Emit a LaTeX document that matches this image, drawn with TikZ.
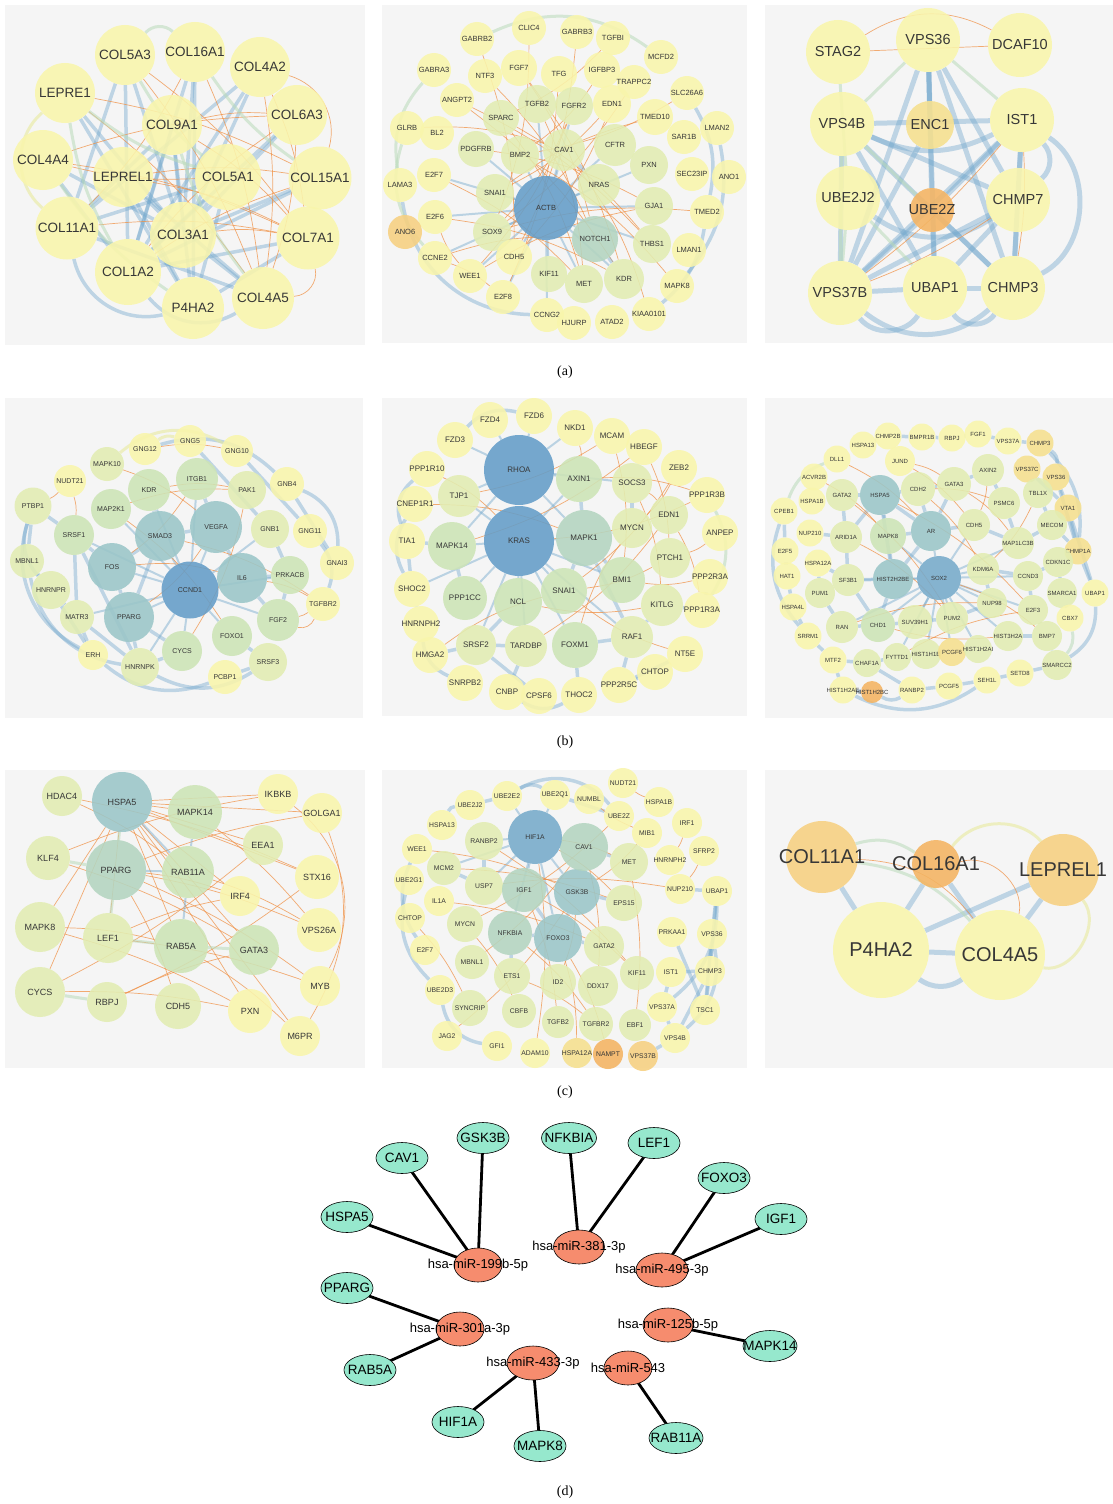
\documentclass[tikz,border=0pt]{standalone}
\usepackage{fontspec}
\setmainfont{Liberation Sans}
\newfontfamily\capserif{Liberation Serif}
\usetikzlibrary{shapes.geometric}
\pgfdeclarelayer{panelbg}
\pgfdeclarelayer{edges}
\pgfsetlayers{panelbg,edges,main}
\definecolor{cY}{RGB}{249,245,172}
\definecolor{cLG}{RGB}{226,237,178}
\definecolor{cG}{RGB}{205,228,182}
\definecolor{cGT}{RGB}{180,213,192}
\definecolor{cT}{RGB}{155,198,200}
\definecolor{cB}{RGB}{100,157,200}
\definecolor{cBl}{RGB}{118,170,202}
\definecolor{cO}{RGB}{247,208,128}
\definecolor{cYO}{RGB}{246,224,142}
\definecolor{cOR}{RGB}{244,180,98}
\definecolor{pbg}{RGB}{245,245,245}
\definecolor{eB}{RGB}{115,168,205}
\definecolor{eO}{RGB}{240,145,70}
\definecolor{eG}{RGB}{185,218,185}
\definecolor{eY}{RGB}{232,234,150}
\definecolor{dG}{RGB}{150,232,205}
\definecolor{dR}{RGB}{246,140,110}
\definecolor{tx}{RGB}{55,55,55}
\newcommand\zb[1]{\makebox[0pt]{#1}}
\tikzset{
 gn/.style={circle,inner sep=0pt,fill=#1,fill opacity=0.88,text opacity=1,text=tx},
 dm/.style={minimum size=#1pt},
 fs/.style={font=\fontsize{#1}{#1}\selectfont},
 eb/.style={draw=eB,line width=3.5pt,draw opacity=0.42},
 ebw/.style={draw=eB,line width=5pt,draw opacity=0.42},
 ebt/.style={draw=eB,line width=2pt,draw opacity=0.45},
 eo/.style={draw=eO,line width=0.7pt,draw opacity=0.75},
 eg/.style={draw=eG,line width=3pt,draw opacity=0.55},
 ey/.style={draw=eY,line width=3pt,draw opacity=0.55},
 dg/.style={ellipse,draw=black,line width=0.6pt,fill=dG,minimum width=52pt,minimum height=31pt,inner sep=0pt,fs=13.5},
 dr/.style={ellipse,draw=black,line width=0.6pt,fill=dR,minimum width=48pt,minimum height=34pt,inner sep=0pt,fs=13},
 de/.style={draw=black,line width=2.8pt},
 captxt/.style={font=\capserif\fontsize{14}{14}\selectfont}
}
\begin{document}
\begin{tikzpicture}[x=1pt,y=-1pt]
\useasboundingbox (0,0) rectangle (1113,1504);
\begin{pgfonlayer}{panelbg}
\fill[white] (0,0) rectangle (1113,1504);
\fill[pbg] (5,5) rectangle (365,345);
\fill[pbg] (382,5) rectangle (747,343);
\fill[pbg] (765,5) rectangle (1113,343);
\fill[pbg] (5,398) rectangle (363,718);
\fill[pbg] (382,398) rectangle (747,716);
\fill[pbg] (765,398) rectangle (1113,718);
\fill[pbg] (5,770) rectangle (365,1068);
\fill[pbg] (382,770) rectangle (747,1068);
\fill[pbg] (765,770) rectangle (1113,1068);
\end{pgfonlayer}

% ================= a1
\begin{scope}[every node/.style={gn=cY,dm=60,fs=13.5}]
\node (a1-COL5A3) at (125,55) {COL5A3};
\node (a1-COL16A1) at (195,52) {COL16A1};
\node (a1-COL4A2) at (260,67) {COL4A2};
\node (a1-LEPRE1) at (65,93) {LEPRE1};
\node (a1-COL6A3) at (297,115) {COL6A3};
\node (a1-COL9A1) at (172,125) {COL9A1};
\node (a1-COL4A4) at (43,160) {COL4A4};
\node (a1-LEPREL1) at (123,177) {LEPREL1};
\node[dm=66] (a1-COL5A1) at (228,177) {COL5A1};
\node[dm=63] (a1-COL15A1) at (320,178) {COL15A1};
\node[dm=63] (a1-COL11A1) at (67,228) {COL11A1};
\node[dm=66] (a1-COL3A1) at (183,235) {COL3A1};
\node[dm=63] (a1-COL7A1) at (308,238) {COL7A1};
\node[dm=66] (a1-COL1A2) at (128,272) {COL1A2};
\node[dm=62] (a1-P4HA2) at (193,308) {P4HA2};
\node[dm=62] (a1-COL4A5) at (263,298) {COL4A5};
\end{scope}
\begin{pgfonlayer}{edges}
\foreach \u/\v in {COL5A3/COL3A1,COL5A3/COL1A2,COL16A1/COL3A1,COL4A2/COL1A2,LEPRE1/COL3A1,COL9A1/COL1A2,COL4A4/COL3A1,LEPREL1/P4HA2,COL5A1/COL1A2,COL15A1/COL3A1,COL11A1/COL5A1,COL6A3/COL1A2,COL7A1/COL1A2,COL4A5/COL11A1,COL5A3/COL11A1,COL4A2/COL11A1,COL16A1/COL1A2,COL9A1/COL11A1,LEPREL1/COL4A5,COL9A1/P4HA2,COL4A4/COL1A2,LEPRE1/P4HA2,COL9A1/COL3A1,LEPREL1/COL3A1,COL5A1/COL3A1,COL6A3/COL3A1,COL4A2/COL3A1,COL15A1/COL1A2,COL7A1/P4HA2,COL4A5/COL3A1,COL16A1/P4HA2,COL5A1/P4HA2}
 \draw[eb] (a1-\u) -- (a1-\v);
\foreach \u/\v in {COL4A4/COL7A1,LEPRE1/COL15A1,COL9A1/COL6A3,LEPREL1/COL7A1,COL11A1/COL7A1,COL3A1/COL7A1,COL5A3/COL4A5,COL16A1/COL4A5,COL4A2/COL7A1,COL6A3/COL4A5,COL4A4/COL6A3,COL1A2/COL15A1,COL5A1/COL4A4,COL9A1/COL7A1,LEPRE1/COL4A5,COL16A1/COL11A1,COL5A3/COL7A1,COL4A2/COL4A5,LEPREL1/COL15A1,COL1A2/COL6A3}
 \draw[eo] (a1-\u) to[bend left=8] (a1-\v);
\foreach \u/\v in {COL5A3/COL5A1,LEPRE1/COL1A2,COL16A1/COL15A1,COL4A4/P4HA2,COL9A1/COL4A5,LEPRE1/COL5A1}
 \draw[eg] (a1-\u) to[bend right=10] (a1-\v);
\draw[eb] (a1-COL11A1) to[bend right=45] (a1-P4HA2);
\draw[eb] (a1-COL1A2) to[bend right=40] (a1-COL4A5);
\draw[eo] (a1-COL4A2) to[bend left=45] (a1-COL15A1);
\draw[eo] (a1-COL7A1) to[bend left=50] (a1-COL4A5);
\draw[ey] (a1-LEPRE1) to[bend right=50] (a1-COL11A1);
\draw[eg] (a1-COL5A3) to[bend left=45] (a1-COL16A1);
\end{pgfonlayer}

% ================= a2
\begin{scope}[every node/.style={gn=cY,dm=34,fs=7.5}]
\node (a2-CLIC4) at (529,28) {CLIC4};
\node (a2-GABRB2) at (477,39) {GABRB2};
\node (a2-GABRB3) at (577,32) {GABRB3};
\node (a2-TGFBI) at (613,38) {TGFBI};
\node (a2-MCFD2) at (661,57) {MCFD2};
\node (a2-GABRA3) at (434,70) {GABRA3};
\node (a2-NTF3) at (485,76) {NTF3};
\node[dm=36] (a2-FGF7) at (519,68) {FGF7};
\node[dm=36] (a2-TFG) at (559,74) {TFG};
\node[dm=36] (a2-IGFBP3) at (602,70) {IGFBP3};
\node (a2-TRAPPC2) at (634,82) {\zb{TRAPPC2}};
\node (a2-SLC26A6) at (687,93) {\zb{SLC26A6}};
\node (a2-ANGPT2) at (457,100) {ANGPT2};
\node[dm=38,fill=cLG] (a2-TGFB2) at (537,104) {TGFB2};
\node[dm=38,fill=cLG] (a2-FGFR2) at (574,106) {FGFR2};
\node[dm=38] (a2-EDN1) at (612,104) {EDN1};
\node[dm=36] (a2-TMED10) at (655,117) {TMED10};
\node (a2-LMAN2) at (717,128) {LMAN2};
\node (a2-BL2) at (437,133) {BL2};
\node (a2-GLRB) at (407,128) {GLRB};
\node[dm=36,fill=cLG] (a2-SPARC) at (501,118) {SPARC};
\node (a2-SAR1B) at (684,137) {SAR1B};
\node[dm=36,fill=cLG] (a2-PDGFRB) at (476,149) {PDGFRB};
\node[dm=38,fill=cLG] (a2-BMP2) at (520,155) {BMP2};
\node[dm=42,fill=cLG] (a2-CAV1) at (564,150) {CAV1};
\node[dm=42,fill=cLG] (a2-CFTR) at (615,145) {CFTR};
\node[dm=38,fill=cLG] (a2-PXN) at (649,165) {PXN};
\node (a2-SEC23IP) at (692,174) {\zb{SEC23IP}};
\node (a2-ANO1) at (729,177) {ANO1};
\node (a2-E2F7) at (434,175) {E2F7};
\node (a2-LAMA3) at (400,185) {LAMA3};
\node[dm=38,fill=cLG] (a2-SNAI1) at (495,193) {SNAI1};
\node[dm=42,fill=cLG] (a2-NRAS) at (599,185) {NRAS};
\node[dm=38,fill=cLG] (a2-GJA1) at (654,206) {GJA1};
\node (a2-TMED2) at (707,212) {TMED2};
\node (a2-E2F6) at (435,217) {E2F6};
\node[fill=cO] (a2-ANO6) at (405,232) {ANO6};
\node[dm=38,fill=cLG] (a2-SOX9) at (492,232) {SOX9};
\node[dm=46,fill=cGT] (a2-NOTCH1) at (595,239) {NOTCH1};
\node[dm=38,fill=cLG] (a2-THBS1) at (652,244) {THBS1};
\node (a2-LMAN1) at (689,250) {LMAN1};
\node (a2-CCNE2) at (435,258) {CCNE2};
\node[dm=36] (a2-CDH5) at (514,257) {CDH5};
\node (a2-WEE1) at (470,276) {WEE1};
\node[dm=36,fill=cLG] (a2-KIF11) at (549,274) {KIF11};
\node[dm=38,fill=cLG] (a2-MET) at (584,284) {MET};
\node[dm=40,fill=cLG] (a2-KDR) at (624,279) {KDR};
\node (a2-MAPK8) at (677,286) {MAPK8};
\node (a2-E2F8) at (503,297) {E2F8};
\node (a2-CCNG2) at (547,315) {CCNG2};
\node (a2-HJURP) at (574,323) {HJURP};
\node (a2-ATAD2) at (612,322) {ATAD2};
\node (a2-KIAA0101) at (649,314) {\zb{KIAA0101}};
\node[dm=64,fill=cB] (a2-ACTB) at (546,208) {ACTB};
\end{scope}
\begin{pgfonlayer}{edges}
\foreach \v in {SNAI1,NRAS,SOX9,NOTCH1,CAV1,BMP2,CDH5,KIF11,MET,KDR,GJA1,THBS1,PXN,E2F7,WEE1,CCNE2,E2F6,CFTR,TGFB2,FGFR2,PDGFRB,E2F8,CCNG2}
 \draw[ebt] (a2-ACTB) -- (a2-\v);
\foreach \u/\v in {TGFB2/MET,FGF7/KDR,FGFR2/SOX9,SPARC/THBS1,ANGPT2/KDR,EDN1/CDH5,NTF3/NOTCH1,IGFBP3/BMP2,TFG/E2F8,GABRB2/CDH5,PDGFRB/GJA1,CAV1/KIAA0101,E2F7/MET,SNAI1/TMED10,CCNE2/E2F8,WEE1/E2F6,CLIC4/SOX9,TGFBI/SPARC,FGF7/NOTCH1,EDN1/SNAI1,GABRB3/CDH5,TRAPPC2/SOX9,SLC26A6/BMP2,ANGPT2/THBS1,SPARC/MET,E2F6/KDR,CCNE2/NOTCH1,WEE1/GJA1,GLRB/CAV1,FGFR2/WEE1,BMP2/MAPK8,SOX9/TMED2}
 \draw[eo] (a2-\u) to[bend left=10] (a2-\v);
\draw[eb] (a2-LAMA3) to[bend right=40] (a2-CCNG2);
\draw[eb] (a2-LMAN2) to[bend left=25] (a2-MAPK8);
\draw[eg] (a2-GABRB2) to[bend left=30] (a2-MCFD2);
\draw[eg] (a2-GLRB) to[bend right=30] (a2-CCNE2);
\draw[eb] (a2-NOTCH1) -- (a2-KDR);
\draw[eb] (a2-CAV1) -- (a2-NRAS);
\draw[eb] (a2-SLC26A6) to[bend left=20] (a2-TMED2);
\draw[eb] (a2-TMED2) to[bend left=20] (a2-KIAA0101);
\draw[eg] (a2-GABRA3) to[bend right=25] (a2-LAMA3);
\end{pgfonlayer}

% ================= a3
\begin{scope}[every node/.style={gn=cY,dm=64,fs=14.5}]
\node (a3-STAG2) at (838,52) {STAG2};
\node (a3-VPS36) at (928,40) {VPS36};
\node (a3-DCAF10) at (1020,45) {DCAF10};
\node (a3-VPS4B) at (842,124) {VPS4B};
\node[dm=48,fill=cYO] (a3-ENC1) at (930,125) {ENC1};
\node (a3-IST1) at (1022,120) {IST1};
\node (a3-UBE2J2) at (848,198) {UBE2J2};
\node[dm=44,fill=cOR] (a3-UBE2Z) at (932,210) {\zb{UBE2Z}};
\node (a3-CHMP7) at (1018,200) {CHMP7};
\node (a3-VPS37B) at (840,293) {VPS37B};
\node (a3-UBAP1) at (935,288) {UBAP1};
\node (a3-CHMP3) at (1013,288) {CHMP3};
\end{scope}
\begin{pgfonlayer}{edges}
\foreach \u/\v in {VPS36/UBE2Z,VPS36/CHMP3,VPS36/UBAP1,VPS36/VPS37B,VPS36/CHMP7,IST1/UBE2Z,IST1/VPS37B,IST1/CHMP3,IST1/CHMP7,CHMP7/VPS37B,CHMP7/UBAP1,CHMP7/CHMP3,UBAP1/VPS37B,UBE2Z/CHMP3,VPS4B/VPS37B,VPS4B/UBAP1,VPS4B/CHMP7,UBE2Z/VPS37B,UBE2Z/UBAP1,VPS4B/IST1,UBAP1/CHMP3,ENC1/VPS37B,VPS36/ENC1,VPS4B/CHMP3}
 \draw[ebw] (a3-\u) -- (a3-\v);
\draw[ebw] (a3-IST1) to[bend left=60] (a3-CHMP3);
\draw[ebw] (a3-IST1) to[bend left=45] (a3-CHMP7);
\draw[ebw] (a3-VPS37B) to[bend right=40] (a3-CHMP3);
\draw[ebw] (a3-VPS37B) to[bend right=55] (a3-UBAP1);
\draw[ebw] (a3-UBAP1) to[bend right=55] (a3-CHMP3);
\draw[ebw] (a3-VPS4B) to[bend right=25] (a3-IST1);
\draw[ebw] (a3-UBE2J2) to[bend right=35] (a3-CHMP7);
\foreach \u/\v in {UBE2J2/VPS37B,UBE2J2/UBAP1,STAG2/UBE2J2,VPS36/VPS4B,VPS4B/UBE2Z,VPS36/IST1,VPS4B/VPS37B}
 \draw[eg] (a3-\u) -- (a3-\v);
\draw[eo] (a3-STAG2) to[bend left=30] (a3-DCAF10);
\draw[eo] (a3-STAG2) -- (a3-DCAF10);
\foreach \u/\v in {IST1/VPS37B,CHMP7/VPS37B,IST1/CHMP3}
 \draw[eo] (a3-\u) to[bend left=6] (a3-\v);
\end{pgfonlayer}

\node[captxt] (capa) at (565,372) {(a)};

% ================= b1
\begin{scope}[every node/.style={gn=cY,dm=32,fs=7}]
\node (b1-GNG12) at (145,449) {GNG12};
\node (b1-GNG5) at (190,441) {GNG5};
\node (b1-GNG10) at (237,451) {GNG10};
\node[dm=34,fill=cLG] (b1-MAPK10) at (107,464) {MAPK10};
\node (b1-NUDT21) at (70,481) {NUDT21};
\node[dm=42,fill=cG] (b1-ITGB1) at (197,479) {ITGB1};
\node[dm=42,fill=cG] (b1-KDR) at (149,490) {KDR};
\node[dm=38,fill=cLG] (b1-PAK1) at (247,490) {PAK1};
\node[dm=34] (b1-GNB4) at (287,484) {GNB4};
\node[dm=37,fill=cLG] (b1-PTBP1) at (33,506) {PTBP1};
\node[dm=40,fill=cG] (b1-MAP2K1) at (111,509) {MAP2K1};
\node[dm=38,fill=cLG] (b1-GNB1) at (270,529) {GNB1};
\node[dm=34] (b1-GNG11) at (310,531) {GNG11};
\node[dm=40,fill=cG] (b1-SRSF1) at (74,535) {SRSF1};
\node[dm=34,fill=cLG] (b1-MBNL1) at (27,561) {MBNL1};
\node[dm=34] (b1-GNAI3) at (337,563) {GNAI3};
\node[dm=38,fill=cG] (b1-PRKACB) at (290,575) {PRKACB};
\node[dm=38,fill=cLG] (b1-HNRNPR) at (51,590) {HNRNPR};
\node[dm=34] (b1-TGFBR2) at (323,604) {TGFBR2};
\node[dm=34,fill=cLG] (b1-MATR3) at (77,617) {MATR3};
\node[dm=42,fill=cG] (b1-FGF2) at (278,620) {FGF2};
\node[dm=40,fill=cG] (b1-FOXO1) at (232,636) {FOXO1};
\node[dm=40,fill=cG] (b1-CYCS) at (182,651) {CYCS};
\node[dm=30] (b1-ERH) at (93,655) {ERH};
\node[dm=38,fill=cLG] (b1-SRSF3) at (268,662) {SRSF3};
\node[dm=38,fill=cLG] (b1-HNRNPK) at (140,667) {HNRNPK};
\node[dm=34] (b1-PCBP1) at (225,677) {PCBP1};
\node[dm=52,fill=cT] (b1-VEGFA) at (216,527) {VEGFA};
\node[dm=50,fill=cT] (b1-SMAD3) at (160,536) {SMAD3};
\node[dm=48,fill=cT] (b1-FOS) at (112,567) {FOS};
\node[dm=50,fill=cT] (b1-IL6) at (242,578) {IL6};
\node[dm=50,fill=cT] (b1-PPARG) at (129,617) {PPARG};
\node[dm=57,fill=cB] (b1-CCND1) at (190,590) {CCND1};
\end{scope}
\begin{pgfonlayer}{edges}
\foreach \v in {SMAD3,VEGFA,FOS,IL6,PPARG,FOXO1,CYCS,FGF2,KDR,ITGB1,MAP2K1,SRSF1,PRKACB,GNB1,HNRNPK,MATR3}
 \draw[ebt] (b1-CCND1) -- (b1-\v);
\foreach \u/\v in {SMAD3/VEGFA,FOS/PPARG,SMAD3/PPARG,VEGFA/IL6,PTBP1/MBNL1,HNRNPR/MATR3,SRSF1/HNRNPK,GNG5/GNB1,GNG10/GNG11,GNB4/GNAI3,SRSF1/FOS,MATR3/HNRNPK,HNRNPR/ERH,MATR3/ERH,GNB1/PRKACB,PRKACB/FGF2,SRSF3/PCBP1,FOXO1/SRSF3,HNRNPK/CYCS,PTBP1/SRSF1,MBNL1/HNRNPR,SRSF1/MATR3,IL6/FGF2,IL6/PRKACB,SMAD3/FOS,VEGFA/ITGB1,KDR/SMAD3,PPARG/CYCS,PPARG/HNRNPK}
 \draw[eb] (b1-\u) -- (b1-\v);
\draw[eb] (b1-PTBP1) to[bend right=30] (b1-HNRNPR);
\draw[eb] (b1-MBNL1) to[bend right=35] (b1-HNRNPK);
\draw[eb] (b1-ERH) to[bend right=30] (b1-PCBP1);
\draw[eb] (b1-HNRNPK) to[bend right=30] (b1-SRSF3);
\draw[eb] (b1-GNG12) to[bend left=30] (b1-GNB4);
\draw[eb] (b1-GNG11) to[bend left=30] (b1-TGFBR2);
\draw[eb] (b1-GNB4) to[bend left=35] (b1-GNAI3);
\draw[eb] (b1-PTBP1) to[bend right=40] (b1-ERH);
\foreach \u/\v in {NUDT21/SRSF1,TGFBR2/FGF2,IL6/TGFBR2,KDR/PAK1,MAP2K1/FOXO1,SMAD3/TGFBR2,VEGFA/PPARG,GNG12/GNG10,MAPK10/VEGFA,ITGB1/FOS,PAK1/CYCS,NUDT21/PTBP1,FOS/IL6,MAP2K1/PAK1}
 \draw[eo] (b1-\u) to[bend left=10] (b1-\v);
\draw[eo] (b1-FGF2) to[bend right=40] (b1-TGFBR2);
\draw[ey] (b1-MAPK10) to[bend left=35] (b1-GNG10);
\draw[ey] (b1-GNG12) to[bend left=25] (b1-GNG5);
\end{pgfonlayer}

% ================= b2
\begin{scope}[every node/.style={gn=cY,dm=36,fs=8}]
\node (b2-FZD4) at (490,420) {FZD4};
\node (b2-FZD6) at (534,416) {FZD6};
\node (b2-NKD1) at (575,428) {NKD1};
\node (b2-MCAM) at (612,436) {MCAM};
\node (b2-FZD3) at (455,440) {FZD3};
\node (b2-HBEGF) at (644,447) {HBEGF};
\node (b2-PPP1R10) at (427,469) {\zb{PPP1R10}};
\node (b2-ZEB2) at (679,468) {ZEB2};
\node[dm=46,fill=cG] (b2-AXIN1) at (579,479) {AXIN1};
\node[dm=40,fill=cLG] (b2-SOCS3) at (632,483) {SOCS3};
\node (b2-PPP1R3B) at (707,495) {\zb{PPP1R3B}};
\node[dm=42,fill=cLG] (b2-TJP1) at (459,496) {TJP1};
\node (b2-CNEP1R1) at (415,504) {\zb{CNEP1R1}};
\node[dm=38,fill=cLG] (b2-EDN1) at (669,515) {EDN1};
\node[dm=40,fill=cLG] (b2-MYCN) at (632,528) {MYCN};
\node (b2-ANPEP) at (720,533) {ANPEP};
\node (b2-TIA1) at (407,541) {TIA1};
\node[dm=48,fill=cG] (b2-MAPK14) at (452,546) {MAPK14};
\node[dm=56,fill=cGT] (b2-MAPK1) at (584,538) {MAPK1};
\node[dm=40,fill=cLG] (b2-PTCH1) at (670,558) {PTCH1};
\node[dm=46,fill=cG] (b2-BMI1) at (622,580) {BMI1};
\node (b2-PPP2R3A) at (710,577) {\zb{PPP2R3A}};
\node (b2-SHOC2) at (412,589) {SHOC2};
\node[dm=46,fill=cG] (b2-SNAI1) at (564,591) {SNAI1};
\node[dm=44,fill=cG] (b2-PPP1CC) at (465,598) {PPP1CC};
\node[dm=48,fill=cG] (b2-NCL) at (518,602) {NCL};
\node[dm=42,fill=cLG] (b2-KITLG) at (662,605) {KITLG};
\node (b2-PPP1R3A) at (702,610) {\zb{PPP1R3A}};
\node (b2-HNRNPH2) at (421,624) {\zb{HNRNPH2}};
\node[dm=42,fill=cLG] (b2-RAF1) at (632,637) {RAF1};
\node[dm=40,fill=cLG] (b2-SRSF2) at (476,645) {SRSF2};
\node[dm=42,fill=cLG] (b2-TARDBP) at (526,646) {TARDBP};
\node[dm=46,fill=cG] (b2-FOXM1) at (575,645) {FOXM1};
\node (b2-NT5E) at (685,654) {NT5E};
\node (b2-HMGA2) at (430,655) {HMGA2};
\node (b2-CHTOP) at (655,672) {CHTOP};
\node (b2-SNRPB2) at (465,683) {SNRPB2};
\node (b2-CNBP) at (507,692) {CNBP};
\node (b2-PPP2R5C) at (619,685) {\zb{PPP2R5C}};
\node (b2-CPSF6) at (539,696) {CPSF6};
\node (b2-THOC2) at (579,695) {THOC2};
\node[dm=70,fill=cB] (b2-RHOA) at (519,470) {RHOA};
\node[dm=70,fill=cB] (b2-KRAS) at (519,541) {KRAS};
\end{scope}
\begin{pgfonlayer}{edges}
\foreach \v in {MAPK1,MAPK14,NCL,SNAI1,PPP1CC,TJP1,AXIN1,BMI1,FOXM1,SRSF2,TARDBP,SHOC2,RAF1}
 \draw[ebt] (b2-KRAS) -- (b2-\v);
\foreach \v in {AXIN1,TJP1,MAPK1,SOCS3,FZD3,FZD4,FZD6,NKD1,MAPK14}
 \draw[ebt] (b2-RHOA) -- (b2-\v);
\foreach \u/\v in {MAPK1/MYCN,MAPK1/BMI1,MAPK1/RAF1,TIA1/SHOC2,PPP2R5C/NT5E,PPP1R3A/PPP2R3A,RAF1/PPP2R5C,SRSF2/CPSF6,MAPK14/PPP1CC,FOXM1/RAF1,TIA1/MAPK14,SHOC2/HNRNPH2,HMGA2/SRSF2,SRSF2/TARDBP,TARDBP/CNBP,FOXM1/THOC2,NCL/SRSF2,RAF1/KITLG,MAPK1/SNAI1,MAPK1/AXIN1,SOCS3/MYCN,KITLG/PPP1R3A,CHTOP/PPP2R5C}
 \draw[eb] (b2-\u) -- (b2-\v);
\draw[eb] (b2-HNRNPH2) to[bend right=30] (b2-SNRPB2);
\draw[eb] (b2-CNBP) to[bend right=30] (b2-THOC2);
\draw[eb] (b2-CNEP1R1) to[bend right=30] (b2-SHOC2);
\draw[eb] (b2-FZD3) to[bend left=30] (b2-FZD6);
\draw[eb] (b2-PPP1R10) to[bend right=35] (b2-TIA1);
\foreach \u/\v in {SOCS3/EDN1,ZEB2/SNAI1,PPP1R3B/KRAS,HBEGF/MAPK14,NKD1/AXIN1,MCAM/BMI1,PTCH1/SNAI1,KITLG/NCL,FOXM1/MYCN,CNEP1R1/MAPK1,HMGA2/SNAI1,PPP1R10/KRAS,ANPEP/PTCH1,EDN1/TARDBP,ZEB2/MYCN,HBEGF/PTCH1,MCAM/TJP1,PPP2R3A/BMI1,NT5E/SNAI1,AXIN1/PPP1R3B,SOCS3/KITLG,EDN1/PPP1R3A}
 \draw[eo] (b2-\u) to[bend left=10] (b2-\v);
\draw[eg] (b2-PPP1R3B) to[bend left=30] (b2-PPP1R3A);
\end{pgfonlayer}

% ================= b3
\begin{scope}[every node/.style={gn=cY,dm=27,fs=6}]
\node (b3-CHMP2B) at (888,436) {CHMP2B};
\node (b3-BMPR1B) at (922,437) {BMPR1B};
\node (b3-RBPJ) at (952,438) {RBPJ};
\node (b3-FGF1) at (978,434) {FGF1};
\node (b3-VPS37A) at (1008,441) {VPS37A};
\node[fill=cYO] (b3-CHMP3) at (1040,443) {CHMP3};
\node (b3-HSPA13) at (863,445) {HSPA13};
\node (b3-DLL1) at (837,459) {DLL1};
\node[dm=30] (b3-JUND) at (900,461) {JUND};
\node[dm=32,fill=cLG] (b3-AXIN2) at (988,470) {AXIN2};
\node[fill=cYO] (b3-VPS37C) at (1027,469) {VPS37C};
\node[fill=cYO] (b3-VPS36) at (1056,477) {VPS36};
\node (b3-ACVR2B) at (814,477) {ACVR2B};
\node[dm=32,fill=cLG] (b3-GATA2) at (842,495) {GATA2};
\node[dm=34,fill=cLG] (b3-CDH2) at (918,489) {CDH2};
\node[dm=34,fill=cLG] (b3-GATA3) at (954,484) {GATA3};
\node[dm=30,fill=cLG] (b3-TBL1X) at (1038,493) {TBL1X};
\node (b3-HSPA1B) at (812,501) {HSPA1B};
\node[dm=32,fill=cLG] (b3-PSMC6) at (1004,503) {PSMC6};
\node (b3-CPEB1) at (784,511) {CPEB1};
\node[fill=cYO] (b3-VTA1) at (1068,508) {VTA1};
\node[dm=32,fill=cLG] (b3-CDH5) at (974,525) {CDH5};
\node[dm=30,fill=cLG] (b3-MECOM) at (1052,525) {MECOM};
\node (b3-NUP210) at (810,533) {NUP210};
\node[dm=32,fill=cLG] (b3-ARID1A) at (846,537) {ARID1A};
\node[dm=36,fill=cG] (b3-MAPK8) at (888,536) {MAPK8};
\node[dm=32,fill=cLG] (b3-MAP1LC3B) at (1018,543) {\zb{MAP1LC3B}};
\node[fill=cYO] (b3-CHMP1A) at (1078,551) {CHMP1A};
\node (b3-E2F5) at (785,551) {E2F5};
\node (b3-HSPA12A) at (818,563) {HSPA12A};
\node[dm=30,fill=cLG] (b3-CDKN1C) at (1058,562) {CDKN1C};
\node (b3-HAT1) at (787,576) {HAT1};
\node[dm=32,fill=cLG] (b3-KDM6A) at (983,569) {KDM6A};
\node[dm=32,fill=cLG] (b3-SF3B1) at (848,580) {SF3B1};
\node[dm=30,fill=cLG] (b3-CCND3) at (1028,576) {CCND3};
\node[dm=30,fill=cLG] (b3-SMARCA1) at (1062,593) {\zb{SMARCA1}};
\node (b3-UBAP1) at (1095,593) {UBAP1};
\node[dm=30,fill=cLG] (b3-PUM1) at (820,593) {PUM1};
\node (b3-HSPA4L) at (793,607) {HSPA4L};
\node[dm=30,fill=cLG] (b3-NUP98) at (992,603) {NUP98};
\node[dm=30,fill=cLG] (b3-E2F3) at (1033,610) {E2F3};
\node (b3-CBX7) at (1070,618) {CBX7};
\node[dm=32,fill=cLG] (b3-RAN) at (842,627) {RAN};
\node[dm=34,fill=cG] (b3-CHD1) at (878,625) {CHD1};
\node[dm=34,fill=cLG] (b3-SUV39H1) at (915,622) {SUV39H1};
\node[dm=32,fill=cLG] (b3-PUM2) at (952,618) {PUM2};
\node (b3-SRRM1) at (808,636) {SRRM1};
\node[dm=30,fill=cLG] (b3-HIST3H2A) at (1008,636) {\zb{HIST3H2A}};
\node[dm=30,fill=cLG] (b3-BMP7) at (1047,636) {BMP7};
\node (b3-MTF2) at (833,660) {MTF2};
\node[dm=28,fill=cLG] (b3-CHAF1A) at (867,663) {CHAF1A};
\node[dm=28,fill=cLG] (b3-FYTTD1) at (897,657) {FYTTD1};
\node[dm=30,fill=cLG] (b3-HIST1H1E) at (926,654) {\zb{HIST1H1E}};
\node[dm=28,fill=cYO] (b3-PCGF6) at (952,652) {PCGF6};
\node[dm=28,fill=cLG] (b3-HIST1H2AI) at (978,649) {\zb{HIST1H2AI}};
\node[dm=30,fill=cLG] (b3-SMARCC2) at (1057,665) {\zb{SMARCC2}};
\node (b3-SETD8) at (1020,673) {SETD8};
\node (b3-SEH1L) at (987,680) {SEH1L};
\node (b3-PCGF5) at (949,686) {PCGF5};
\node (b3-RANBP2) at (912,690) {RANBP2};
\node (b3-HIST1H2AE) at (843,690) {\zb{HIST1H2AE}};
\node[dm=22,fill=cOR] (b3-HIST1H2BC) at (872,692) {\zb{HIST1H2BC}};
\node[dm=40,fill=cT] (b3-HSPA5) at (880,495) {HSPA5};
\node[dm=40,fill=cT] (b3-AR) at (931,531) {AR};
\node[dm=40,fill=cT] (b3-HIST2H2BE) at (893,579) {\zb{HIST2H2BE}};
\node[dm=44,fill=cBl] (b3-SOX2) at (939,578) {SOX2};
\end{scope}
\begin{pgfonlayer}{edges}
\foreach \v in {AR,HIST2H2BE,KDM6A,SUV39H1,PUM2,CHD1,SF3B1,NUP98,MAPK8,CDH5,PCGF6,HIST1H1E,CCND3,E2F3,HIST1H2AI,RAN,FYTTD1,HIST3H2A,MAP1LC3B}
 \draw[ebt] (b3-SOX2) -- (b3-\v);
\foreach \u/\v in {AR/HSPA5,AR/MAPK8,AR/CDH2,AR/GATA3,AR/CDH5,HSPA5/GATA2,HSPA5/CDH2,HSPA5/MAPK8,VPS37A/CHMP3,VPS36/VTA1,VTA1/CHMP1A,CHMP1A/UBAP1,VPS37C/VTA1,MECOM/CHMP1A,HIST1H2AE/HIST1H2BC,RANBP2/PCGF5,PCGF5/SEH1L,SEH1L/SETD8,SETD8/SMARCC2,CPEB1/E2F5,E2F5/HAT1,HAT1/HSPA4L,HSPA4L/SRRM1,SRRM1/MTF2,MTF2/HIST1H2AE,HSPA13/CHMP2B,CHMP2B/BMPR1B,BMPR1B/RBPJ,RBPJ/FGF1,FGF1/VPS37A,HIST2H2BE/SF3B1,HIST2H2BE/CHD1,NUP210/ARID1A,HSPA12A/PUM1,HSPA5/ARID1A,HSPA5/HIST2H2BE,AR/HIST2H2BE,MAPK8/HIST2H2BE,ARID1A/SF3B1,SF3B1/CHD1,CHD1/SUV39H1,SUV39H1/PUM2,PUM2/NUP98,NUP98/KDM6A,KDM6A/CCND3,CCND3/E2F3,E2F3/BMP7,HIST3H2A/BMP7,BMP7/SMARCC2,HIST1H1E/PCGF6,PCGF6/HIST1H2AI,FYTTD1/HIST1H1E,CHAF1A/FYTTD1,RAN/CHD1,PUM1/RAN,HSPA12A/SF3B1,GATA2/ARID1A,CDH2/GATA3,GATA3/AXIN2,AXIN2/PSMC6,PSMC6/MAP1LC3B,CDH5/MAP1LC3B,MECOM/MAP1LC3B,CDKN1C/CCND3,SMARCA1/CBX7,TBL1X/MECOM,VPS37C/TBL1X,VPS36/CHMP1A,VTA1/UBAP1,CDKN1C/SMARCA1,CHAF1A/RANBP2,MTF2/CHAF1A}
 \draw[eb] (b3-\u) -- (b3-\v);
\draw[eb] (b3-CHMP3) to[bend left=30] (b3-VPS36);
\draw[eb] (b3-UBAP1) to[bend left=30] (b3-SMARCC2);
\draw[eb] (b3-HIST1H2BC) to[bend right=30] (b3-RANBP2);
\draw[eb] (b3-CHMP3) to[bend left=25] (b3-CHMP1A);
\draw[eb] (b3-CPEB1) to[bend right=30] (b3-SRRM1);
\draw[eb] (b3-HIST1H2AE) to[bend right=30] (b3-SEH1L);
\foreach \u/\v in {JUND/GATA3,CDH2/PSMC6,GATA3/MAP1LC3B,AXIN2/CDH5,DLL1/AR,ARID1A/PUM2,SOX2/BMP7,HIST3H2A/CHD1,RAN/NUP98,FYTTD1/E2F3,ACVR2B/MAPK8,TBL1X/KDM6A,JUND/CDH5,CDH2/KDM6A,GATA2/PUM2,HSPA5/E2F3}
 \draw[eo] (b3-\u) to[bend left=10] (b3-\v);
\draw[eg] (b3-DLL1) to[bend right=25] (b3-CPEB1);
\draw[eg] (b3-CBX7) to[bend left=25] (b3-SMARCC2);
\end{pgfonlayer}

\node[captxt] (capb) at (565,742) {(b)};

% ================= c1
\begin{scope}[every node/.style={gn=cLG,dm=40,fs=9}]
\node (c1-HDAC4) at (62,796) {HDAC4};
\node[fill=cY] (c1-IKBKB) at (278,794) {IKBKB};
\node[fill=cY] (c1-GOLGA1) at (322,813) {GOLGA1};
\node (c1-EEA1) at (263,845) {EEA1};
\node[dm=44] (c1-KLF4) at (48,858) {KLF4};
\node[fill=cY] (c1-IRF4) at (240,896) {IRF4};
\node[dm=44,fill=cY] (c1-STX16) at (317,877) {STX16};
\node[dm=50] (c1-MAPK8) at (40,927) {MAPK8};
\node[dm=50] (c1-LEF1) at (108,938) {LEF1};
\node[dm=44,fill=cY] (c1-VPS26A) at (319,930) {VPS26A};
\node[dm=50] (c1-CYCS) at (40,992) {CYCS};
\node (c1-RBPJ) at (107,1002) {RBPJ};
\node[dm=46] (c1-CDH5) at (178,1006) {CDH5};
\node[dm=44,fill=cY] (c1-PXN) at (250,1011) {PXN};
\node[fill=cY] (c1-MYB) at (320,986) {MYB};
\node[fill=cY] (c1-M6PR) at (300,1036) {M6PR};
\node[dm=54,fill=cG] (c1-RAB5A) at (181,946) {RAB5A};
\node[dm=50,fill=cG] (c1-GATA3) at (254,950) {GATA3};
\node[dm=52,fill=cG] (c1-RAB11A) at (188,872) {RAB11A};
\node[dm=54,fill=cG] (c1-MAPK14) at (195,812) {MAPK14};
\node[dm=60,fill=cGT] (c1-PPARG) at (116,870) {PPARG};
\node[dm=60,fill=cT] (c1-HSPA5) at (122,802) {HSPA5};
\end{scope}
\begin{pgfonlayer}{edges}
\foreach \v in {MAPK14,IKBKB,EEA1,STX16,GATA3,RAB5A,PXN,M6PR,IRF4,CYCS,MAPK8,LEF1,GOLGA1}
 \draw[eo] (c1-HSPA5) -- (c1-\v);
\foreach \u/\v in {PPARG/MYB,PPARG/VPS26A,PPARG/GOLGA1,PPARG/CDH5,PPARG/IRF4,HDAC4/RAB11A,KLF4/GATA3,MAPK8/RAB5A,CYCS/PXN,LEF1/IRF4,RAB11A/VPS26A,RAB5A/M6PR,STX16/RBPJ,EEA1/CYCS,MAPK14/VPS26A,KLF4/IKBKB,HDAC4/STX16,MAPK8/PXN,RBPJ/GATA3,LEF1/MYB}
 \draw[eo] (c1-\u) to[bend left=6] (c1-\v);
\draw[eo] (c1-IKBKB) to[bend left=40] (c1-MYB);
\draw[eo] (c1-GOLGA1) to[bend left=25] (c1-M6PR);
\foreach \u/\v in {HSPA5/PPARG,PPARG/LEF1,LEF1/RAB5A,RAB5A/GATA3,KLF4/PPARG,CYCS/RBPJ}
 \draw[eg] (c1-\u) -- (c1-\v);
\foreach \u/\v in {MAPK14/RAB11A,RAB11A/RAB5A,PPARG/RAB11A,HSPA5/RAB11A}
 \draw[ebt] (c1-\u) -- (c1-\v);
\end{pgfonlayer}

% ================= c2
\begin{scope}[every node/.style={gn=cY,dm=30,fs=6.8}]
\node (c2-NUDT21) at (623,783) {NUDT21};
\node (c2-UBE2E2) at (507,796) {UBE2E2};
\node (c2-UBE2Q1) at (555,795) {UBE2Q1};
\node (c2-NUMBL) at (589,799) {NUMBL};
\node (c2-HSPA1B) at (659,802) {HSPA1B};
\node (c2-UBE2J2) at (470,805) {UBE2J2};
\node (c2-UBE2Z) at (619,816) {UBE2Z};
\node (c2-IRF1) at (687,823) {IRF1};
\node (c2-HSPA13) at (442,825) {HSPA13};
\node (c2-MIB1) at (647,833) {MIB1};
\node[dm=38,fill=cLG] (c2-RANBP2) at (484,841) {RANBP2};
\node (c2-WEE1) at (417,849) {WEE1};
\node (c2-SFRP2) at (704,851) {SFRP2};
\node[dm=38,fill=cLG] (c2-MET) at (629,862) {MET};
\node (c2-HNRNPH2) at (670,860) {\zb{HNRNPH2}};
\node[dm=34,fill=cLG] (c2-MCM2) at (444,868) {MCM2};
\node (c2-UBE2G1) at (409,880) {UBE2G1};
\node[dm=38,fill=cLG] (c2-USP7) at (484,886) {USP7};
\node (c2-NUP210) at (680,889) {NUP210};
\node (c2-UBAP1) at (717,891) {UBAP1};
\node[dm=36,fill=cLG] (c2-EPS15) at (624,903) {EPS15};
\node (c2-IL1A) at (439,901) {IL1A};
\node (c2-CHTOP) at (410,918) {CHTOP};
\node[dm=36,fill=cLG] (c2-MYCN) at (465,924) {MYCN};
\node (c2-PRKAA1) at (672,932) {PRKAA1};
\node (c2-VPS36) at (712,934) {VPS36};
\node (c2-E2F7) at (425,950) {E2F7};
\node[dm=34,fill=cLG] (c2-MBNL1) at (472,962) {MBNL1};
\node[dm=40,fill=cLG] (c2-GATA2) at (604,946) {GATA2};
\node[dm=36,fill=cLG] (c2-ETS1) at (512,976) {ETS1};
\node[dm=36,fill=cLG] (c2-ID2) at (558,982) {ID2};
\node[dm=40,fill=cLG] (c2-DDX17) at (598,986) {DDX17};
\node[dm=34,fill=cLG] (c2-KIF11) at (637,973) {KIF11};
\node (c2-IST1) at (671,972) {IST1};
\node (c2-CHMP3) at (710,971) {CHMP3};
\node (c2-UBE2D3) at (440,990) {UBE2D3};
\node[dm=36,fill=cLG] (c2-SYNCRIP) at (470,1008) {SYNCRIP};
\node[dm=34,fill=cLG] (c2-CBFB) at (519,1011) {CBFB};
\node (c2-VPS37A) at (662,1007) {VPS37A};
\node (c2-TSC1) at (705,1010) {TSC1};
\node[dm=32,fill=cLG] (c2-TGFB2) at (558,1022) {TGFB2};
\node[dm=34,fill=cLG] (c2-TGFBR2) at (596,1024) {TGFBR2};
\node[dm=32,fill=cLG] (c2-EBF1) at (635,1025) {EBF1};
\node (c2-JAG2) at (447,1036) {JAG2};
\node (c2-GFI1) at (497,1046) {GFI1};
\node (c2-VPS4B) at (675,1038) {VPS4B};
\node (c2-ADAM10) at (535,1053) {ADAM10};
\node[fill=cYO] (c2-HSPA12A) at (577,1053) {\zb{HSPA12A}};
\node[fill=cOR] (c2-NAMPT) at (608,1054) {NAMPT};
\node[fill=cO] (c2-VPS37B) at (643,1056) {VPS37B};
\node[dm=44,fill=cGT] (c2-IGF1) at (524,890) {IGF1};
\node[dm=44,fill=cGT] (c2-NFKBIA) at (510,933) {NFKBIA};
\node[dm=46,fill=cT] (c2-GSK3B) at (577,892) {GSK3B};
\node[dm=48,fill=cT] (c2-FOXO3) at (558,938) {FOXO3};
\node[dm=48,fill=cGT] (c2-CAV1) at (584,847) {CAV1};
\node[dm=54,fill=cBl] (c2-HIF1A) at (535,837) {HIF1A};
\end{scope}
\begin{pgfonlayer}{edges}
\foreach \v in {CAV1,IGF1,GSK3B,RANBP2,USP7,MCM2,UBE2E2,UBE2Q1,FOXO3,NFKBIA}
 \draw[ebt] (c2-HIF1A) -- (c2-\v);
\foreach \u/\v in {GSK3B/FOXO3,GSK3B/CAV1,IGF1/FOXO3,FOXO3/NFKBIA,FOXO3/GATA2,UBE2J2/UBE2E2,UBE2Q1/UBE2Z,UBAP1/VPS36,VPS36/CHMP3,IST1/VPS37A,VPS37A/VPS4B,VPS4B/VPS37B,CHMP3/VPS4B,IST1/CHMP3,CHMP3/TSC1,UBAP1/CHMP3,VPS36/TSC1,PRKAA1/TSC1,NUP210/UBAP1,GSK3B/EPS15,CAV1/MET,IGF1/USP7,NFKBIA/ETS1,USP7/MCM2,RANBP2/USP7}
 \draw[eb] (c2-\u) -- (c2-\v);
\draw[eb] (c2-UBE2E2) to[bend left=30] (c2-UBE2Q1);
\draw[eb] (c2-UBAP1) to[bend left=25] (c2-VPS37A);
\draw[eb] (c2-UBE2G1) to[bend right=30] (c2-UBE2D3);
\draw[eb] (c2-WEE1) to[bend right=30] (c2-E2F7);
\draw[eb] (c2-HSPA13) to[bend left=30] (c2-UBE2J2);
\draw[eb] (c2-UBE2D3) to[bend right=35] (c2-GFI1);
\draw[eb] (c2-UBE2E2) to[bend left=40] (c2-UBE2Z);
\draw[eb] (c2-VPS36) to[bend left=30] (c2-VPS4B);
\foreach \u/\v in {HIF1A/MET,HIF1A/EPS15,IGF1/TGFB2,GSK3B/ID2,CAV1/DDX17,MIB1/NUMBL,HSPA1B/NUDT21,MET/EBF1,NFKBIA/TGFBR2,ETS1/TGFBR2,FOXO3/HSPA12A,FOXO3/NAMPT,GSK3B/JAG2,RANBP2/KIF11,USP7/NUP210,IL1A/GATA2,CHTOP/SYNCRIP,MYCN/CBFB,IRF1/HNRNPH2,SFRP2/NUP210,HIF1A/ADAM10,CAV1/MBNL1,MCM2/EPS15,IGF1/KIF11,UBE2Z/MYCN,MIB1/GSK3B,WEE1/GSK3B}
 \draw[eo] (c2-\u) to[bend left=8] (c2-\v);
\end{pgfonlayer}

% ================= c3
\begin{scope}[every node/.style={gn=cY,dm=60,fs=20}]
\node[dm=72,fill=cO] (c3-COL11A1) at (822,857) {\zb{COL11A1}};
\node[dm=48,fill=cOR] (c3-COL16A1) at (936,864) {\zb{COL16A1}};
\node[dm=72,fill=cO] (c3-LEPREL1) at (1063,870) {\zb{LEPREL1}};
\node[dm=96] (c3-P4HA2) at (881,950) {P4HA2};
\node[dm=90] (c3-COL4A5) at (1000,955) {\zb{COL4A5}};
\end{scope}
\begin{pgfonlayer}{edges}
\foreach \u/\v in {COL11A1/P4HA2,LEPREL1/P4HA2,LEPREL1/COL4A5,COL16A1/P4HA2,COL16A1/COL4A5,P4HA2/COL4A5}
 \draw[ebw] (c3-\u) -- (c3-\v);
\draw[ebw] (c3-P4HA2) to[bend right=35] (c3-COL4A5);
\draw[eg] (c3-COL11A1) to[bend left=20] (c3-COL4A5);
\draw[eo] (c3-COL11A1) to[bend left=25] (c3-COL4A5);
\draw[eo] (c3-COL16A1) to[bend left=60] (c3-COL4A5);
\draw[ey] (c3-COL16A1) to[bend left=50] (c3-LEPREL1);
\draw[ey] (c3-COL4A5) to[bend right=70] (c3-LEPREL1);
\draw[eg] (c3-COL11A1) to[bend left=25] (c3-COL16A1);
\end{pgfonlayer}

\node[captxt] (capc) at (565,1092) {(c)};

% ================= d
\node[dg] (d-CAV1) at (402,1158) {\zb{CAV1}};
\node[dg] (d-GSK3B) at (483,1138) {\zb{GSK3B}};
\node[dg,minimum width=55pt] (d-NFKBIA) at (569,1138) {\zb{NFKBIA}};
\node[dg] (d-LEF1) at (654,1143) {\zb{LEF1}};
\node[dg] (d-FOXO3) at (724,1178) {\zb{FOXO3}};
\node[dg] (d-IGF1) at (781,1219) {\zb{IGF1}};
\node[dg] (d-HSPA5) at (347,1217) {\zb{HSPA5}};
\node[dg] (d-PPARG) at (347,1288) {\zb{PPARG}};
\node[dg] (d-RAB5A) at (370,1370) {\zb{RAB5A}};
\node[dg] (d-HIF1A) at (458,1422) {\zb{HIF1A}};
\node[dg] (d-MAPK8) at (540,1446) {\zb{MAPK8}};
\node[dg,minimum width=54pt] (d-RAB11A) at (676,1438) {\zb{RAB11A}};
\node[dg,minimum width=54pt] (d-MAPK14) at (770,1346) {\zb{MAPK14}};
\node[dr] (d-m199) at (478,1265) {\zb{hsa-miR-199b-5p}};
\node[dr,minimum width=51pt] (d-m381) at (579,1247) {\zb{hsa-miR-381-3p}};
\node[dr,minimum width=52pt] (d-m495) at (662,1270) {\zb{hsa-miR-495-3p}};
\node[dr] (d-m301) at (460,1329) {\zb{hsa-miR-301a-3p}};
\node[dr,minimum width=50pt] (d-m125) at (668,1325) {\zb{hsa-miR-125b-5p}};
\node[dr,minimum width=52pt] (d-m433) at (533,1363) {\zb{hsa-miR-433-3p}};
\node[dr] (d-m543) at (628,1368) {\zb{hsa-miR-543}};
\begin{pgfonlayer}{edges}
\foreach \u/\v in {m199/CAV1,m199/GSK3B,m199/HSPA5,m381/NFKBIA,m381/LEF1,m495/FOXO3,m495/IGF1,m301/PPARG,m301/RAB5A,m433/HIF1A,m433/MAPK8,m543/RAB11A,m125/MAPK14}
 \draw[de] (d-\u.center) -- (d-\v.center);
\end{pgfonlayer}

\node[captxt] (capd) at (565,1492) {(d)};
\end{tikzpicture}
\end{document}
